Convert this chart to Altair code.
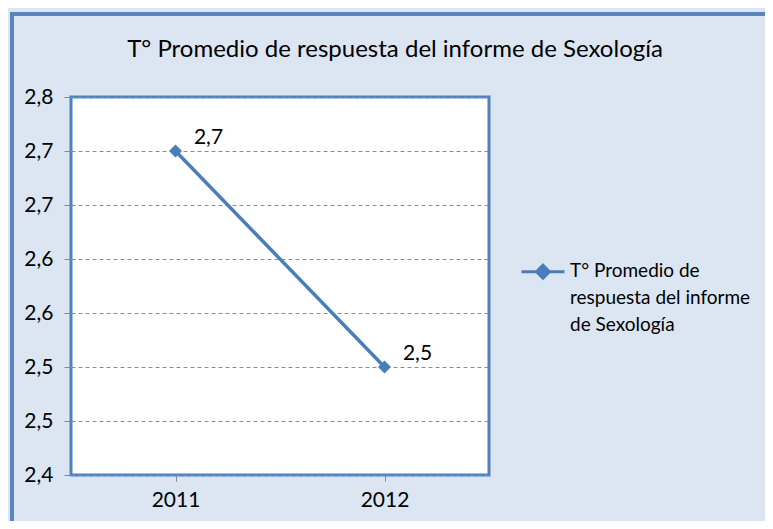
import altair as alt
import pandas as pd

years = ["2011", "2012"]
values = [2.74, 2.54]
series_name = "T° Promedio de respuesta del informe de Sexología"
legend_lines = ["T° Promedio de", "respuesta del informe", "de Sexología"]
y_ticks = [2.44, 2.49, 2.54, 2.59, 2.64, 2.69, 2.74, 2.79]
title_text = "T° Promedio de respuesta del informe de Sexología"

df = pd.DataFrame({"year": years, "value": values, "serie": [series_name] * len(years)})

FONT = "Lato"
BLUE = "#4a7ebb"
W, H = 418, 378
FS = 21

x = alt.X("year:N", scale=alt.Scale(paddingInner=0, paddingOuter=0),
          axis=alt.Axis(title=None, labelAngle=0, bandPosition=0, ticks=True, tickSize=6,
                        tickColor="#888888", labelPadding=8, domain=False, grid=False,
                        labelFont=FONT, labelFontSize=FS, labelColor="black"))
y = alt.Y("value:Q", scale=alt.Scale(domain=[y_ticks[0], y_ticks[-1]], nice=False, zero=False),
          axis=alt.Axis(title=None, values=y_ticks, tickSize=7, tickColor="#888888",
                        labelPadding=11, domain=False, grid=True, gridColor="#8c8c8c",
                        gridDash=[4, 3], gridWidth=1,
                        labelExpr="replace(format(datum.value, '.1f'), '.', ',')",
                        labelFont=FONT, labelFontSize=FS, labelColor="black"))

color = alt.Color("serie:N", scale=alt.Scale(range=[BLUE]),
                  legend=alt.Legend(title=None, orient="none", legendX=449, legendY=142,
                                    symbolType="M-1,0.45L1,0.45M0,0.15L0.3,0.45L0,0.75L-0.3,0.45Z",
                                    symbolSize=1849, symbolStrokeWidth=3,
                                    symbolFillColor=BLUE, symbolStrokeColor=BLUE,
                                    labelFont=FONT, labelFontSize=19, labelColor="black",
                                    labelBaseline="top", labelLimit=400, labelOffset=4,
                                    labelExpr="['" + "','".join(legend_lines) + "']"))

border = alt.Chart(df).mark_rect(fill=None, stroke="#5a86bd", strokeWidth=4, clip=False).encode(
    x=alt.value(-59), x2=alt.value(800), y=alt.value(-83), y2=alt.value(520))

line = alt.Chart(df).mark_line(strokeWidth=3.5).encode(x=x, y=y, color=color)
pts = alt.Chart(df).mark_point(shape="diamond", filled=True, size=170, opacity=1).encode(
    x=x, y=y, color=color)
labels = alt.Chart(df).transform_calculate(
    lab="replace(format(datum.value, '.1f'), '.', ',')"
).mark_text(dx=33, dy=-13, font=FONT, fontSize=FS, color="black").encode(
    x=x, y=y, text="lab:N")

chart = alt.layer(border, line, pts, labels).properties(
    width=W, height=H,
    title=alt.TitleParams(title_text, font=FONT, fontSize=24, fontWeight="normal",
                          color="black", anchor="middle", frame="group", dx=115,
                          baseline="alphabetic", offset=-69),
    background="#dce6f2",
    padding={"left": 63, "top": 89, "right": 276, "bottom": 46},
    autosize=alt.AutoSizeParams(type="none"),
).configure(style={"guide-label": {"lineHeight": 27}}
).configure_view(fill="white", stroke="#4f81bd", strokeWidth=3)

chart.save("out.html", embed_options={"renderer": "svg", "actions": False})
